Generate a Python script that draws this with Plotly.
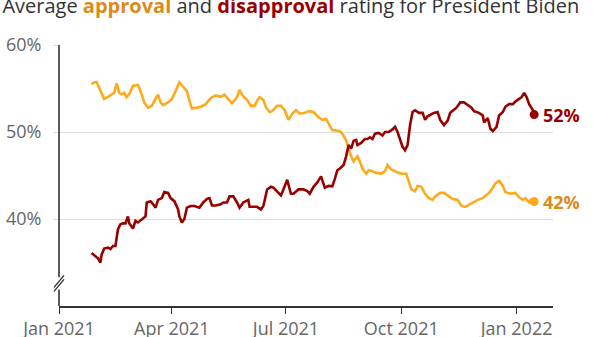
import pandas as pd
import plotly.graph_objects as go

# Day offsets from 1 Jan 2021 and polling averages (%)
approval_day = [26, 28, 30, 32, 34, 36, 39, 42, 44, 46, 48, 50, 52, 54, 56, 59, 63, 65, 68, 71,
                74, 77, 79, 81, 83, 87, 90, 93, 96, 99, 102, 104, 106, 110, 113, 117, 121, 125,
                129, 132, 135, 138, 142, 144, 147, 150, 153, 156, 158, 160, 163, 165, 168, 170,
                174, 177, 180, 183, 186, 189, 192, 196, 199, 203, 207, 210, 213, 216, 218, 220,
                224, 226, 229, 231, 233, 235, 238, 240, 242, 245, 247, 250, 253, 257, 260, 262,
                265, 268, 271, 274, 277, 279, 281, 284, 286, 289, 292, 295, 298, 300, 304, 307,
                311, 314, 318, 321, 324, 328, 331, 334, 338, 340, 343, 346, 348, 351, 354, 356,
                360, 364, 367, 370, 372, 375, 376, 379]
approval = [55.5, 55.7, 55.76, 55.1, 54.35, 53.8, 54.05, 54.35, 54.5, 55.6, 54.5, 54.35, 54.5,
            54.0, 54.35, 55.3, 55.4, 54.7, 53.4, 52.8, 53.0, 53.8, 54.3, 53.4, 53.1, 53.4, 53.8,
            54.7, 55.7, 55.2, 54.7, 53.6, 52.7, 52.8, 52.9, 53.2, 53.9, 54.2, 54.05, 54.3, 53.8,
            53.3, 54.0, 54.85, 54.05, 53.7, 53.0, 53.0, 53.6, 54.0, 53.7, 52.85, 52.3, 52.4,
            53.0, 53.0, 52.5, 51.4, 52.1, 52.5, 52.1, 52.2, 52.4, 52.3, 51.7, 51.4, 51.5, 50.8,
            50.2, 50.2, 50.1, 49.8, 49.05, 48.1, 47.2, 46.6, 47.2, 46.6, 45.8, 45.2, 45.6, 45.5,
            45.3, 45.2, 45.5, 46.2, 45.7, 45.5, 45.3, 45.2, 45.2, 44.3, 43.4, 43.2, 43.8, 43.7,
            42.9, 42.4, 42.2, 42.6, 43.0, 43.0, 42.6, 42.3, 42.2, 41.5, 41.4, 41.7, 41.9, 42.2,
            42.4, 42.6, 43.0, 43.6, 44.1, 44.4, 43.8, 43.1, 42.9, 43.0, 42.5, 42.2, 42.4, 41.9,
            42.2, 42.0]

disapproval_day = [26, 28, 30, 31, 33, 34, 36, 39, 41, 43, 45, 47, 49, 51, 53, 55, 56, 59, 61,
                   63, 66, 69, 70, 73, 75, 77, 79, 82, 84, 87, 89, 92, 95, 96, 98, 100, 102, 105,
                   108, 112, 115, 118, 120, 122, 125, 129, 131, 134, 136, 139, 142, 144, 147,
                   151, 152, 156, 158, 161, 163, 166, 169, 171, 174, 177, 179, 182, 185, 187,
                   191, 195, 198, 200, 203, 206, 209, 211, 212, 215, 218, 220, 222, 224, 227,
                   229, 231, 233, 235, 237, 238, 241, 244, 246, 248, 250, 252, 255, 258, 260,
                   263, 266, 268, 270, 272, 274, 276, 278, 280, 282, 284, 287, 290, 292, 294,
                   297, 299, 302, 304, 307, 310, 312, 314, 317, 320, 323, 326, 329, 331, 335,
                   338, 339, 342, 344, 346, 349, 351, 354, 356, 359, 362, 364, 367, 369, 371,
                   373, 375, 376, 378, 379]
disapproval = [36.1, 35.8, 35.6, 35.5, 35.0, 35.9, 36.6, 36.7, 36.55, 36.9, 36.9, 38.8, 39.4,
               39.5, 39.5, 40.3, 39.5, 38.9, 39.8, 39.6, 40.0, 40.3, 41.9, 42.05, 41.7, 41.3,
               42.2, 42.4, 43.1, 43.0, 42.4, 42.05, 41.1, 40.3, 39.6, 40.0, 41.3, 41.5, 41.5,
               41.3, 41.9, 42.3, 42.4, 41.55, 41.55, 41.7, 41.9, 41.9, 42.6, 42.6, 41.9, 41.3,
               41.9, 42.2, 41.4, 41.4, 41.4, 41.1, 41.5, 43.4, 43.7, 43.6, 43.2, 42.7, 43.4,
               44.5, 42.9, 42.9, 43.4, 43.4, 43.2, 42.9, 43.7, 44.2, 44.9, 44.1, 43.6, 43.8,
               43.75, 44.6, 45.6, 45.8, 46.2, 47.2, 48.5, 48.1, 49.0, 49.1, 48.5, 48.75, 49.2,
               49.2, 49.4, 49.2, 49.8, 49.9, 49.6, 50.0, 50.0, 50.3, 50.6, 50.0, 49.1, 48.3,
               47.9, 48.5, 50.8, 52.3, 52.5, 52.2, 52.2, 51.4, 51.8, 52.1, 52.2, 52.3, 51.4,
               50.8, 51.3, 52.2, 52.4, 52.8, 53.4, 53.4, 53.1, 52.8, 52.4, 52.2, 51.9, 51.1,
               51.6, 50.4, 50.1, 50.6, 51.9, 52.3, 52.9, 53.2, 53.2, 53.5, 53.8, 54.0, 54.5,
               54.0, 53.2, 53.0, 52.5, 52.0]

tick_dates = ["2021-01-01", "2021-04-01", "2021-07-01", "2021-10-01", "2022-01-01"]
tick_text = ["Jan 2021", "Apr 2021", "Jul 2021", "Oct 2021", "Jan 2022"]
y_ticks = [40, 50, 60]
y_tick_text = ["40%", "50%", "60%"]

APPROVAL_COLOR = "#fdaa1c"
APPROVAL_TEXT = "#dc8a1c"
DISAPPROVAL_COLOR = "#990000"
AXIS_COLOR = "#333333"
GRID_COLOR = "#dddddd"
FONT = "Open Sans"

start = pd.Timestamp("2021-01-01")
approval_dates = start + pd.to_timedelta(approval_day, unit="D")
disapproval_dates = start + pd.to_timedelta(disapproval_day, unit="D")

fig = go.Figure()

for dates, values, color in [(approval_dates, approval, APPROVAL_COLOR),
                             (disapproval_dates, disapproval, DISAPPROVAL_COLOR)]:
    fig.add_trace(go.Scatter(x=dates, y=values, mode="lines",
                             line=dict(color=color, width=2.6, shape="linear"),
                             hoverinfo="skip", showlegend=False))
    # end-point dot
    fig.add_trace(go.Scatter(x=[dates[-1]], y=[values[-1]], mode="markers",
                             marker=dict(color=color, size=9),
                             hoverinfo="skip", showlegend=False))

# end labels
for dates, values, color in [(approval_dates, approval, APPROVAL_TEXT),
                             (disapproval_dates, disapproval, DISAPPROVAL_COLOR)]:
    fig.add_annotation(x=dates[-1], y=values[-1], xref="x", yref="y",
                       text=f"<b>{values[-1]:.0f}%</b>", showarrow=False,
                       xanchor="left", yanchor="middle", xshift=7,
                       font=dict(family=FONT, size=18, color=color))

# broken y-axis line with slash marks
BREAK_HI, BREAK_LO = 33.3, 31.9
fig.add_shape(type="line", xref="paper", yref="y", x0=0, x1=0, y0=60, y1=BREAK_HI,
              line=dict(color=AXIS_COLOR, width=1.6))
fig.add_shape(type="line", xref="paper", yref="y", x0=0, x1=0, y0=BREAK_LO, y1=30,
              line=dict(color=AXIS_COLOR, width=1.6))
for off in (-2, 2):
    fig.add_shape(type="line", xref="paper", yref="y",
                  xsizemode="pixel", ysizemode="pixel", xanchor=0, yanchor=32.6,
                  x0=-5, x1=5, y0=-6 + off, y1=6 + off,
                  line=dict(color=AXIS_COLOR, width=1.4))

fig.update_layout(
    width=600, height=337,
    margin=dict(l=59, r=47, t=45, b=31),
    paper_bgcolor="white", plot_bgcolor="white",
    font=dict(family=FONT, color="#666666"),
    title=dict(
        text=("Average <b><span style='color:%s'>approval</span></b> and "
              "<b><span style='color:%s'>disapproval</span></b> rating for President Biden")
             % (APPROVAL_TEXT, DISAPPROVAL_COLOR),
        x=0.004, xanchor="left", xref="container",
        y=0.983, yanchor="middle", yref="container",
        font=dict(family=FONT, size=20, color="#333333"),
    ),
    xaxis=dict(
        type="date",
        range=["2021-01-01", "2022-01-30"],
        tickvals=tick_dates, ticktext=tick_text,
        showgrid=False, zeroline=False, automargin=False,
        showline=True, linecolor=AXIS_COLOR, linewidth=1.6,
        ticks="outside", ticklen=6, tickcolor=AXIS_COLOR, tickwidth=1,
        tickfont=dict(family=FONT, size=18, color="#666666"),
    ),
    yaxis=dict(
        range=[30, 60],
        tickvals=y_ticks, ticktext=y_tick_text, automargin=False,
        showgrid=True, gridcolor=GRID_COLOR, gridwidth=1.2,
        zeroline=False, showline=False,
        ticks="outside", ticklen=5, tickcolor=GRID_COLOR, tickwidth=1.2,
        ticklabelstandoff=8,
        tickfont=dict(family=FONT, size=18, color="#666666"),
    ),
)

fig.write_html("out.html")
